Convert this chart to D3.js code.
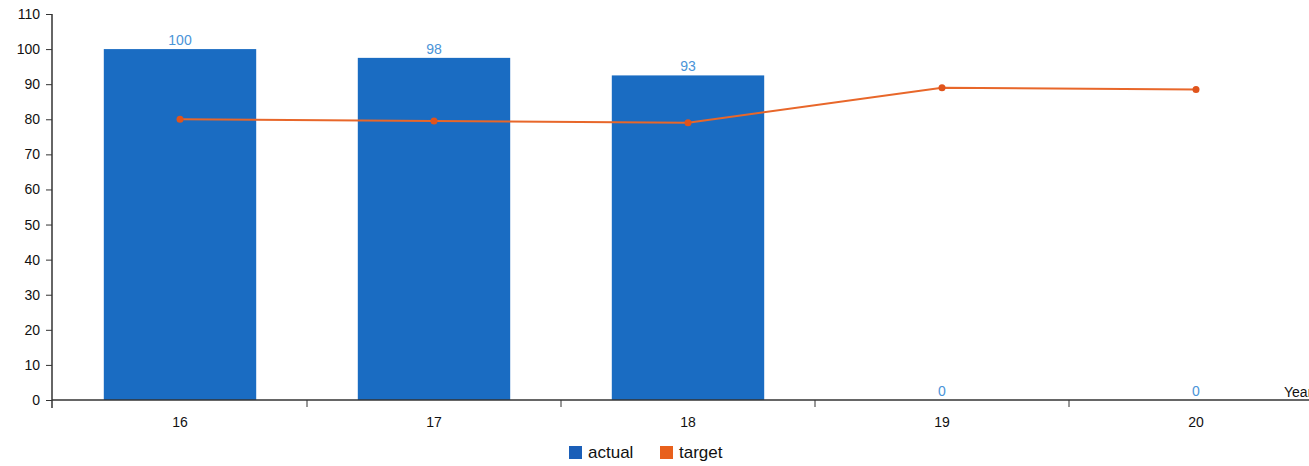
<!DOCTYPE html>
<html lang="en">
<head>
    <meta charset="UTF-8">
    <title>Actual vs Target</title>
    <style>
        body { margin: 0; background: #fff; font-family: Arial, "Liberation Sans", sans-serif; }
        .axis text { font-size: 14px; fill: #111; }
        .axis path, .axis line { stroke: #333; }
    </style>
</head>
<body>
    <svg id="chart" width="1309" height="466"></svg>

    <script src="https://d3js.org/d3.v7.min.js"></script>
    <script>
        const years = ["16", "17", "18", "19", "20"];
        const actual = [100, 97.5, 92.5, 0, 0];
        const target = [80, 79.5, 79, 89, 88.5];
        const yTicks = [0, 10, 20, 30, 40, 50, 60, 70, 80, 90, 100, 110];

        const svg = d3.select("#chart");
        const x0 = 52, y0 = 400;

        const x = d3.scaleBand()
            .domain(years)
            .range([x0, 1322])
            .paddingInner(0.4)
            .paddingOuter(0.2);

        const y = d3.scaleLinear()
            .domain([0, 110])
            .range([y0, 14]);

        // bars
        svg.append("g").selectAll("rect")
            .data(actual)
            .enter().append("rect")
            .attr("x", (d, i) => x(years[i]) + 1)
            .attr("y", d => y(d))
            .attr("width", x.bandwidth())
            .attr("height", d => y0 - y(d))
            .attr("fill", "#1a6cc2");

        // value labels
        svg.append("g").selectAll("text")
            .data(actual)
            .enter().append("text")
            .attr("x", (d, i) => x(years[i]) + x.bandwidth() / 2 + 1)
            .attr("y", d => y(d) - 4)
            .attr("text-anchor", "middle")
            .style("font-size", "14px")
            .style("fill", "#4a94d8")
            .text(d => d3.format(".0f")(d));

        // target line
        const line = d3.line()
            .x((d, i) => x(years[i]) + x.bandwidth() / 2 + 1)
            .y(d => y(d));

        svg.append("path")
            .datum(target)
            .attr("d", line)
            .attr("fill", "none")
            .attr("stroke", "#e8672a")
            .attr("stroke-width", 2);

        svg.append("g").selectAll("circle")
            .data(target)
            .enter().append("circle")
            .attr("cx", (d, i) => x(years[i]) + x.bandwidth() / 2 + 1)
            .attr("cy", d => y(d))
            .attr("r", 3.5)
            .attr("fill", "#e0541c");

        // y axis
        const yAxis = svg.append("g")
            .attr("class", "axis")
            .attr("transform", `translate(${x0},0)`)
            .call(d3.axisLeft(y).tickValues(yTicks).tickSize(6).tickSizeOuter(0).tickPadding(6));
        yAxis.select(".domain").attr("d", `M0,14V${y0 + 8}`).attr("stroke-width", 1.5);

        // x axis with ticks on band edges
        const xAxis = svg.append("g")
            .attr("class", "axis")
            .attr("transform", `translate(0,${y0})`);
        xAxis.append("line")
            .attr("x1", x0).attr("x2", 1309)
            .attr("stroke", "#333").attr("stroke-width", 1.5);
        const edges = years.slice(1).map(d => x(d) - x.step() * x.paddingInner() / 2 + 1);
        xAxis.selectAll(".edge")
            .data(edges)
            .enter().append("line")
            .attr("class", "edge")
            .attr("x1", d => d).attr("x2", d => d)
            .attr("y1", 0).attr("y2", 7);
        xAxis.selectAll(".lbl")
            .data(years)
            .enter().append("text")
            .attr("class", "lbl")
            .attr("x", d => x(d) + x.bandwidth() / 2 + 1)
            .attr("y", 27)
            .attr("text-anchor", "middle")
            .text(d => d);
        xAxis.append("text")
            .attr("x", 1284)
            .attr("y", -3)
            .text("Year");

        // legend
        const legend = svg.append("g").attr("transform", "translate(569,446)");
        const items = [["actual", "#1b5fb8"], ["target", "#e8601c"]];
        const li = legend.selectAll("g")
            .data(items)
            .enter().append("g")
            .attr("transform", (d, i) => `translate(${i * 91},0)`);
        li.append("rect").attr("width", 13).attr("height", 13).attr("fill", d => d[1]);
        li.append("text")
            .attr("x", 19).attr("y", 12)
            .style("font-size", "17px")
            .style("fill", "#111")
            .text(d => d[0]);
    </script>
</body>
</html>
